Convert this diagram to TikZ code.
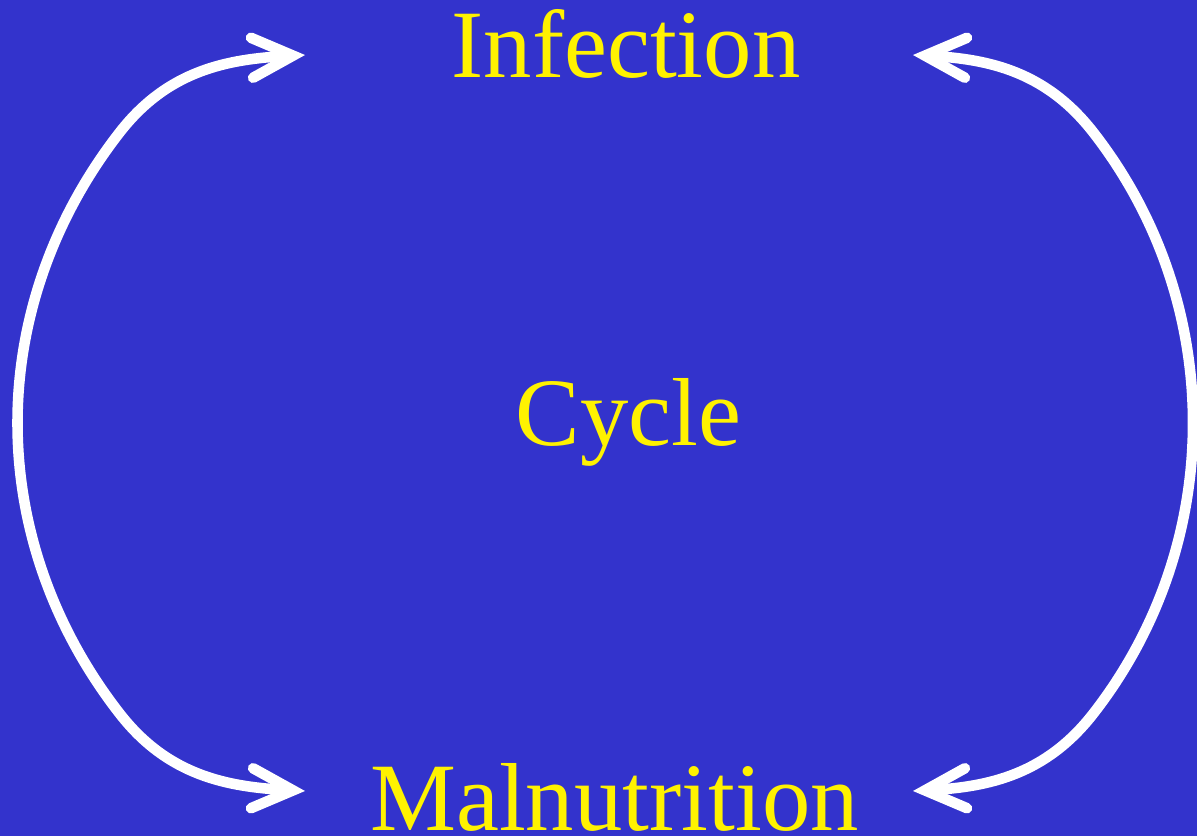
\documentclass[tikz,border=0pt]{standalone}
\usepackage{fontspec}
\setmainfont{Liberation Serif}
\usetikzlibrary{arrows.meta}
\definecolor{slideblue}{RGB}{51,51,204}
\begin{document}
\begin{tikzpicture}[
  lbl/.style={text=yellow,inner sep=0pt,anchor=base,font=\fontsize{27.5}{33}\selectfont},
  cyc/.style={white,line width=3pt,>={Straight Barb[length=4.1mm,width=4mm,line cap=round]},<->}]
  \fill[slideblue] (0,0) rectangle (11.97,8.36);
  \useasboundingbox (0,0) rectangle (11.97,8.36);
  \node[lbl] (inf) at (6.26,7.585) {Infection};
  \node[lbl] (cyc) at (6.285,3.91) {Cycle};
  \node[lbl] (mal) at (6.145,0.06) {Malnutrition};
  % left arc
  \coordinate (lt) at (3.05,7.81);
  \coordinate (lu) at (1.20,7.04);
  \coordinate (lm) at (0.175,4.13);
  \coordinate (ll) at (1.20,1.22);
  \coordinate (lb) at (3.05,0.45);
  \draw[cyc] (lt) to[out=183,in=52] (lu) to[out=232,in=90,looseness=0.88] (lm)
    to[out=270,in=128,looseness=0.88] (ll) to[out=308,in=177] (lb);
  % right arc
  \coordinate (rt) at (9.13,7.81);
  \coordinate (ru) at (10.93,7.04);
  \coordinate (rm) at (11.93,4.13);
  \coordinate (rl) at (10.93,1.22);
  \coordinate (rb) at (9.13,0.45);
  \draw[cyc] (rt) to[out=-3,in=128] (ru) to[out=-52,in=90,looseness=0.88] (rm)
    to[out=-90,in=52,looseness=0.88] (rl) to[out=232,in=3] (rb);
\end{tikzpicture}
\end{document}
